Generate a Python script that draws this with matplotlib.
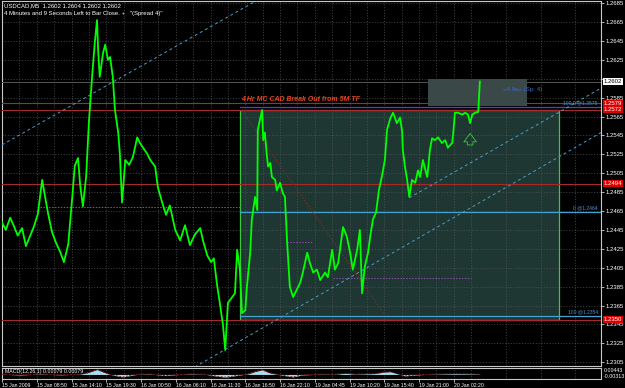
import numpy as np
import matplotlib.pyplot as plt
from matplotlib.patches import Rectangle
from matplotlib.transforms import blended_transform_factory

plt.rcParams['font.family'] = ['Liberation Sans', 'DejaVu Sans']

# ------------------- USDCAD M5 trace (bar index, price) -------------------
bars = [0, 7, 15, 22, 29, 37, 44, 52, 59, 66, 74, 79, 85, 92, 99, 107, 114, 122,
        129, 134, 140, 144, 149, 155, 160, 166, 171, 175,
        177, 180, 186, 190, 195, 199, 204, 208, 214, 217, 221, 227, 234, 241, 249,
        254, 262, 267, 273, 282, 287, 295, 302, 309, 319, 328, 337, 346, 355, 365,
        370, 378, 385, 390, 396, 401, 407, 411,
        416, 424, 429, 433, 438, 442, 448, 451, 457, 460, 466, 470, 471, 479, 481,
        484, 488, 490, 494, 497, 503, 506, 512, 517, 521,
        525, 530, 536, 543, 549, 554, 562, 567, 573, 580, 586, 595, 600, 608, 613,
        619, 628, 635, 641, 646, 654, 659, 663, 668, 674, 678, 683, 689, 694, 700,
        705, 709, 715, 720, 727, 733, 737, 738, 742, 746, 750,
        755, 761, 766, 770, 775, 783, 785, 788, 792, 797, 803, 810, 816, 821, 829,
        831, 834, 840, 847, 853, 858, 862, 866, 871, 877, 878, 880]
close = [1.2453, 1.2445, 1.2458, 1.2449, 1.2439, 1.2447, 1.2428, 1.2439, 1.2449,
         1.2462, 1.2498, 1.2481, 1.2462, 1.2443, 1.2432, 1.2422, 1.2411, 1.2430,
         1.2477, 1.2513, 1.2521, 1.2492, 1.2470, 1.2502, 1.2559, 1.2608, 1.2644, 1.2667,
         1.2635, 1.2607, 1.2632, 1.2641, 1.2625, 1.2628, 1.2607, 1.2572, 1.2548,
         1.2526, 1.2474, 1.2519, 1.2514, 1.2522, 1.2543, 1.2537, 1.2530, 1.2526,
         1.2519, 1.2512, 1.2490, 1.2474, 1.2461, 1.2471, 1.2445, 1.2434, 1.2450,
         1.2429, 1.2440, 1.2447, 1.2434, 1.2418, 1.2411, 1.2415, 1.2387, 1.2368,
         1.2344, 1.2318,
         1.2368, 1.2374, 1.2378, 1.2424, 1.2403, 1.2357, 1.2360, 1.2385, 1.2421,
         1.2456, 1.2480, 1.2466, 1.2551, 1.2572, 1.2540, 1.2548, 1.2522, 1.2512,
         1.2516, 1.2501, 1.2498, 1.2487, 1.2495, 1.2484, 1.2480,
         1.2432, 1.2385, 1.2374, 1.2382, 1.2389, 1.2400, 1.2421, 1.2410, 1.2400,
         1.2403, 1.2392, 1.2400, 1.2395, 1.2424, 1.2403, 1.2410, 1.2448, 1.2438,
         1.2421, 1.2403, 1.2424, 1.2445, 1.2378, 1.2406, 1.2421, 1.2438, 1.2456,
         1.2464, 1.2487, 1.2503, 1.2519, 1.2551, 1.2563, 1.2569, 1.2558, 1.2564,
         1.2548, 1.2530, 1.2512, 1.2498, 1.2480,
         1.2498, 1.2495, 1.2508, 1.2501, 1.2519, 1.2501, 1.2512, 1.2530, 1.2542,
         1.2540, 1.2543, 1.2537, 1.2540, 1.2532, 1.2537, 1.2548, 1.2569, 1.2569,
         1.2567, 1.2569, 1.2567, 1.2558, 1.2567, 1.2569, 1.2570, 1.2582, 1.2602]

# MACD(12,26,1) histogram
macd_bars = [0, 33, 70, 107, 144, 158, 175, 190, 199, 214, 223, 236, 250, 273, 291,
             302, 319, 346, 374, 392, 411, 431, 453, 466, 479, 494, 512, 527, 536,
             552, 586, 613, 632, 650, 687, 702, 715, 729, 742, 755, 779, 807, 834,
             862, 880]
macd_vals = [0.0002, -0.0004, 0.0003, -0.0003, 0.0002, 0.0012, 0.0034, 0.0012, 0.0,
             -0.0012, -0.0017, -0.0008, 0.0001, 0.0003, -0.0004, -0.0008, -0.0002,
             0.0003, 0.0001, -0.0010, -0.0019, -0.0008, 0.0004, 0.0020, 0.0032,
             0.0010, -0.0003, -0.0012, -0.0017, -0.0004, 0.0002, 0.0001, 0.0008,
             0.0002, 0.0006, 0.0016, 0.0019, 0.0004, -0.0010, -0.0006, 0.0, 0.0003,
             0.0005, 0.0004, 0.0002]

time_ticks = [0, 64, 128, 192, 256, 320, 384, 448, 512, 576, 640, 704, 768, 832]
time_labels = ['15 Jan 2009', '15 Jan 08:50', '15 Jan 14:10', '15 Jan 19:30',
               '16 Jan 00:50', '16 Jan 06:10', '16 Jan 11:30', '16 Jan 16:50',
               '16 Jan 22:10', '19 Jan 04:45', '19 Jan 10:20', '19 Jan 15:40',
               '19 Jan 21:00', '20 Jan 02:20']
price_ticks = [1.2305, 1.2325, 1.2345, 1.2365, 1.2385, 1.2405, 1.2425, 1.2445,
               1.2465, 1.2485, 1.2505, 1.2525, 1.2545, 1.2565, 1.2585, 1.2605,
               1.2625, 1.2645, 1.2665, 1.2685]

red_levels = [1.2579, 1.2572, 1.2494, 1.2350]
bid = 1.2602
fib_levels = [(1.2575, '100.0 @1.2575'), (1.2464, '0 @1.2464'), (1.2354, '100 @1.2354')]
box_start, box_end = 438, 1026
box_low, box_high = 1.2350, 1.2572
# trend channel (start bar, start price, end bar, end price)
channels = [(0, 1.2535, 473, 1.2689), (355, 1.2300, 1103, 1.2548), (750, 1.2479, 1103, 1.2595)]
purple_lines = [(70, 438, 1.2469), (525, 570, 1.2432), (610, 864, 1.2394)]
diag_line = (444, 1.2569, 705, 1.2355)

xmax = 1103
fs = 4.3
fx = 3.7
grid_c = '#5a5a5a'
green = '#3cc83c'

fig = plt.figure(figsize=(6.25, 3.88), dpi=100, facecolor='black')
ax = fig.add_axes([2 / 625, 1 - 366 / 388, 599 / 625, 365 / 388], facecolor='black')
axm = fig.add_axes([2 / 625, 1 - 379 / 388, 599 / 625, 11 / 388], facecolor='black', sharex=ax)

ax.set_xlim(0, xmax)
ax.set_ylim(1.23011, 1.26872)

# fibo rectangle
ax.add_patch(Rectangle((box_start, box_low), box_end - box_start, box_high - box_low,
                       facecolor='#1e3733', edgecolor=green, lw=0.9, zorder=1))

# grid
ax.set_xticks(time_ticks)
ax.set_xticks(np.arange(32, xmax, 64), minor=True)
ax.set_yticks(price_ticks)
ax.grid(True, which='both', color=grid_c, ls=(0, (1.5, 2.5)), lw=0.5, zorder=2)
ax.tick_params(axis='x', which='both', bottom=False, labelbottom=False)

# horizontal levels
for lv in red_levels:
    ax.axhline(lv, color='#a52a2a', lw=0.8, zorder=3)
ax.axhline(bid, color='#555555', lw=0.7, zorder=3)
for k, (lv, txt) in enumerate(fib_levels):
    ax.plot([box_start, xmax], [lv, lv], color='#4646d2' if k == 0 else '#46a0d2', lw=0.9, zorder=3)
    ax.text(xmax - 6, lv + 0.0002, txt, color='#4f8fc8', fontsize=3.6, ha='right', va='bottom', zorder=6)

for x0, x1, lv in purple_lines:
    ax.plot([x0, x1], [lv, lv], color='#8a4fa8', ls=(0, (1.5, 1.5)), lw=0.7, zorder=3)
ax.plot(diag_line[::2], diag_line[1::2], color='#7a2c20', ls=(0, (1.5, 1.5)), lw=0.8, zorder=3)
for x0, p0, x1, p1 in channels:
    ax.plot([x0, x1], [p0, p1], color='#4a9ec8', ls=(0, (3, 3)), lw=0.7, zorder=3)

# spread / timer box
ax.add_patch(Rectangle((785, 1.2576), 182, 0.0029, facecolor='#3a4848', edgecolor='none', zorder=3))
ax.text(923, 1.2594, '«4.9s» (Sp: 4)', color='#3d6cc8', fontsize=4.5, va='center', zorder=6)

# price
ax.plot(bars, close, color='#00ff00', lw=1.3, zorder=5)

ax.text(440, 1.2583, '4 Hr MC CAD Break Out from 5M TF', color='#e8461e', fontsize=5,
        fontweight='bold', style='italic', va='center', zorder=6)
ax.annotate('', xy=(862, 1.2550), xytext=(862, 1.2532),
            arrowprops=dict(arrowstyle='simple,head_width=0.9,head_length=0.6,tail_width=0.4',
                            fc='none', ec=green, lw=0.6), zorder=6)

ax.text(0.003, 0.995, 'USDCAD,M5  1.2602 1.2604 1.2602 1.2602', transform=ax.transAxes,
        color='white', fontsize=fs, va='top')
ax.text(0.003, 0.973, '4 Minutes and 9 Seconds Left to Bar Close. +   "(Spread 4)"',
        transform=ax.transAxes, color='white', fontsize=fs, va='top')

# right price scale (1.2605 is covered by the bid label)
ax.yaxis.tick_right()
ax.set_yticklabels(['' if abs(p - 1.2605) < 1e-6 else f'{p:.4f}' for p in price_ticks])
ax.tick_params(axis='y', colors='white', labelsize=fs, length=2, pad=1, width=0.5)
tr = blended_transform_factory(ax.transAxes, ax.transData)
for lv in red_levels:
    ax.text(1.004, lv, f'{lv:.4f}', transform=tr, color='white', fontsize=fs, va='center',
            bbox=dict(facecolor='#e00000', edgecolor='none', pad=0.6), zorder=7, clip_on=False)
ax.text(1.004, bid, f'{bid:.4f}', transform=tr, color='black', fontsize=fs, va='center',
        bbox=dict(facecolor='white', edgecolor='none', pad=0.6), zorder=7, clip_on=False)

for s in ax.spines.values():
    s.set_color('#c8c8c8')
    s.set_linewidth(0.8)

# MACD panel
axm.set_ylim(-0.00313, 0.00443)
axm.fill_between(macd_bars, 0, macd_vals, color='#a8dcf0', lw=0, zorder=3)
axm.plot(macd_bars, macd_vals, color='#8b1a1a', ls=(0, (2, 1.5)), lw=0.7, zorder=4)
axm.set_xticks(np.arange(32, xmax, 64), minor=True)
axm.grid(True, which='both', axis='x', color=grid_c, ls=(0, (1.5, 2.5)), lw=0.5)
axm.set_yticks([])
axm.text(5, 0.0040, 'MACD(12,26,1) 0.00079 0.00079', color='white', fontsize=3.8, va='top')
trm = blended_transform_factory(axm.transAxes, axm.transData)
axm.text(1.004, 0.0030, '0.00443', transform=trm, color='white', fontsize=3.8, va='center', clip_on=False)
axm.text(1.004, -0.0015, '-0.00313', transform=trm, color='white', fontsize=3.8, va='center', clip_on=False)
axm.set_xticks(time_ticks)
axm.set_xticklabels(time_labels, ha='left')
axm.tick_params(axis='x', which='major', colors='white', labelsize=fx, length=2, pad=1, width=0.5)
axm.tick_params(axis='x', which='minor', length=0)
for s in axm.spines.values():
    s.set_color('#c8c8c8')
    s.set_linewidth(0.8)

fig.savefig('out.png', dpi=100, facecolor='black')
